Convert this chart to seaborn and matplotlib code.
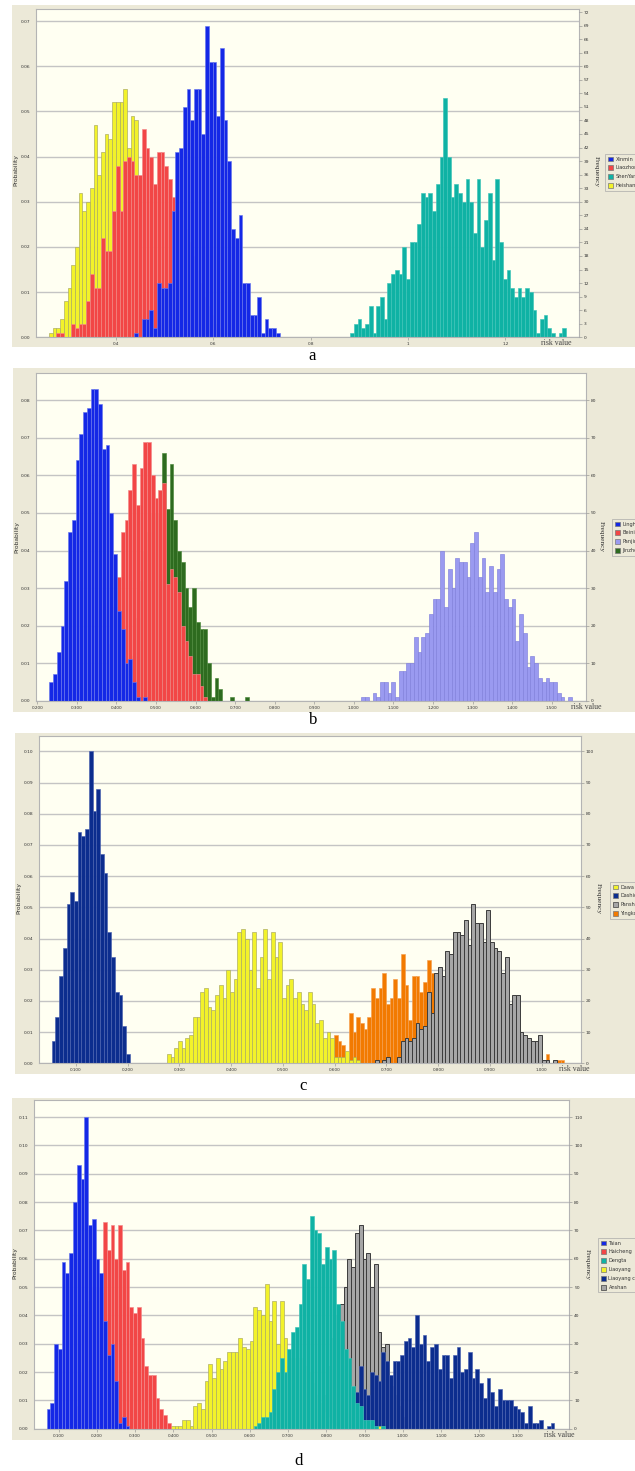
import numpy as np
import pandas as pd
import matplotlib
matplotlib.use("Agg")
import matplotlib.pyplot as plt
from matplotlib.patches import Patch, Rectangle
import seaborn as sns

sns.set_theme(style="white")
plt.rcParams['font.family'] = ['DejaVu Sans']

W, H = 635, 1471

# ---------------- panel a (bin width 0.00764) ----------------
a_bin = 0.00764
xinmin_start = 0.4382
xinmin = [0.001, 0.000, 0.004, 0.004, 0.006, 0.002, 0.012, 0.011, 0.011, 0.012,
          0.028, 0.041, 0.042, 0.051, 0.055, 0.048, 0.055, 0.055, 0.045, 0.069,
          0.061, 0.061, 0.049, 0.064, 0.048, 0.039, 0.024, 0.022, 0.027, 0.012,
          0.012, 0.005, 0.005, 0.009, 0.001, 0.004, 0.002, 0.002, 0.001]
liaozhong_start = 0.2778
liaozhong = [0.001, 0.001, 0.000, 0.000, 0.003, 0.002, 0.003, 0.003, 0.008, 0.014,
             0.011, 0.011, 0.022, 0.019, 0.019, 0.028, 0.038, 0.028, 0.039, 0.040,
             0.039, 0.036, 0.036, 0.046, 0.042, 0.040, 0.034, 0.041, 0.041, 0.038,
             0.035, 0.031, 0.028, 0.026, 0.024, 0.021, 0.018, 0.015, 0.012, 0.009,
             0.007, 0.005, 0.003, 0.002]
shenyang_start = 0.8813
shenyang_freq = [1, 3, 4, 2, 3, 7, 1, 7, 9, 4, 12, 14, 15, 14, 20, 13, 21, 21, 25, 32,
                 31, 32, 28, 34, 40, 53, 40, 31, 34, 32, 30, 35, 30, 23, 35, 20, 26, 32, 17, 35,
                 21, 13, 15, 11, 9, 11, 9, 11, 10, 6, 1, 4, 5, 2, 1, 0, 1, 2]
heishan_start = 0.2625
heishan = [0.001, 0.002, 0.002, 0.004, 0.008, 0.011, 0.016, 0.020, 0.032, 0.028,
           0.030, 0.033, 0.047, 0.036, 0.041, 0.045, 0.044, 0.052, 0.052, 0.052,
           0.055, 0.042, 0.049, 0.048]

# ---------------- panel b (bin width 0.0095) ----------------
b_bin = 0.0095
linghai_start = 0.2304
linghai = [0.005, 0.007, 0.013, 0.020, 0.032, 0.045, 0.048, 0.064, 0.071, 0.077,
           0.078, 0.083, 0.083, 0.079, 0.067, 0.068, 0.050, 0.039, 0.024, 0.019,
           0.010, 0.011, 0.005, 0.001, 0.000, 0.001]
beining_start = 0.3824
beining = [0.015, 0.025, 0.033, 0.045, 0.048, 0.056, 0.063, 0.052, 0.062, 0.069,
           0.069, 0.060, 0.054, 0.056, 0.058, 0.031, 0.035, 0.033, 0.029, 0.020,
           0.016, 0.012, 0.007, 0.007, 0.004, 0.001]
panjin_start = 1.0189
panjin_freq = [1, 1, 0, 2, 1, 5, 5, 2, 5, 1, 8, 8, 10, 10, 17, 13, 17, 18, 23, 27,
               27, 40, 25, 35, 30, 38, 37, 37, 33, 42, 45, 33, 38, 29, 36, 29, 35, 39, 27, 25,
               27, 16, 23, 18, 9, 12, 10, 6, 5, 6, 5, 5, 2, 1, 0, 1]
jinzhou_start = 0.4299
jinzhou = [0.005, 0.012, 0.022, 0.032, 0.040, 0.045, 0.050, 0.048, 0.050,
           0.066, 0.051, 0.063, 0.048, 0.040, 0.037, 0.030, 0.025, 0.030, 0.021,
           0.019, 0.019, 0.010, 0.001, 0.006, 0.003, 0.000, 0.000, 0.001, 0.000,
           0.000, 0.000, 0.001]

# ---------------- panel c (bin width 0.00718) ----------------
c_bin = 0.00718
dawa_start = 0.2756
dawa = [0.003, 0.002, 0.005, 0.007, 0.005, 0.008, 0.009, 0.015, 0.015, 0.023,
        0.024, 0.018, 0.017, 0.022, 0.025, 0.021, 0.030, 0.023, 0.027, 0.042,
        0.043, 0.040, 0.030, 0.042, 0.024, 0.034, 0.043, 0.027, 0.042, 0.034,
        0.039, 0.021, 0.025, 0.027, 0.021, 0.023, 0.019, 0.017, 0.023, 0.019,
        0.013, 0.014, 0.008, 0.010, 0.008, 0.002, 0.002, 0.002, 0.004, 0.001,
        0.002, 0.001]
dashiqiao_start = 0.0530
dashiqiao = [0.007, 0.015, 0.028, 0.037, 0.051, 0.055, 0.052, 0.074, 0.073, 0.075,
             0.100, 0.081, 0.088, 0.067, 0.061, 0.042, 0.034, 0.023, 0.022, 0.012,
             0.003]
panshan_start = 0.6777
panshan_freq = [1, 0, 1, 2, 0, 0, 2, 7, 8, 7, 8, 13, 11, 12, 23, 16,
                29, 31, 28, 36, 35, 42, 42, 41, 46, 38, 51, 45, 45, 39, 49, 39, 37, 36, 29, 34,
                19, 22, 22, 10, 9, 8, 7, 7, 9, 1, 1, 0, 1]
yingkou_start = 0.5987
yingkou_freq = [9, 7, 6, 2, 16, 10, 15, 13, 11, 15, 24, 21, 24, 29, 19, 21, 27, 21, 35, 25,
                14, 28, 28, 23, 26, 33, 29,
                25, 26, 24, 24, 22, 22, 20, 19, 18, 17, 16, 15, 14, 13, 12, 11, 10, 9, 8, 7,
                6, 5, 5, 4, 3, 3, 2, 2, 2, 0, 3, 0, 0, 1, 1]

# ---------------- panel d (bin width 0.00983) ----------------
d_bin = 0.00983
taian_start = 0.0691
taian = [0.007, 0.009, 0.030, 0.028, 0.059, 0.055, 0.062, 0.080, 0.093, 0.088,
         0.110, 0.072, 0.074, 0.060, 0.055, 0.038, 0.026, 0.030, 0.017, 0.002,
         0.004, 0.001]
haicheng_start = 0.1477
haicheng = [0.008, 0.020, 0.035, 0.045, 0.050, 0.050, 0.048,
            0.073, 0.063, 0.072, 0.060, 0.072, 0.056, 0.059, 0.043, 0.041, 0.043,
            0.032, 0.022, 0.019, 0.019, 0.011, 0.007, 0.005, 0.002]
dengta_start = 0.6098
dengta = [0.001, 0.002, 0.004, 0.004, 0.006, 0.014, 0.020, 0.025, 0.020, 0.028,
          0.034, 0.036, 0.044, 0.058, 0.053, 0.075, 0.070, 0.069, 0.058, 0.064,
          0.060, 0.063, 0.044, 0.038, 0.028, 0.025, 0.015, 0.009, 0.008, 0.003,
          0.003, 0.003, 0.001, 0.000, 0.001]
liaoyang_start = 0.3935
liaoyang = [0.001, 0.001, 0.001, 0.003, 0.003, 0.001, 0.008, 0.009, 0.007, 0.017,
            0.023, 0.018, 0.025, 0.021, 0.024, 0.027, 0.027, 0.027, 0.032, 0.029,
            0.028, 0.031, 0.043, 0.042, 0.040, 0.051, 0.038, 0.045, 0.030, 0.045,
            0.032, 0.022, 0.025, 0.025, 0.025, 0.022, 0.020, 0.016, 0.012, 0.009,
            0.006, 0.004, 0.002, 0.001, 0, 0, 0, 0, 0, 0, 0, 0, 0, 0, 0, 0.001]
liaoyang_city_start = 0.8752
liaoyang_city_freq = [13, 22, 14, 12, 20, 19, 17, 27, 24, 19, 24, 24, 26, 31, 32, 29, 40, 30,
                      33, 24, 29, 30, 21, 26, 26, 18, 26, 29, 20, 21, 27, 18, 21, 16, 11, 18,
                      13, 8, 14, 10, 10, 10, 8, 7, 6, 2, 8, 2, 2, 3, 0, 1, 2]
anshan_start = 0.7867
anshan = [0.005, 0.012, 0.022, 0.032, 0.040,
          0.044, 0.050, 0.060, 0.057, 0.069, 0.072, 0.060, 0.062, 0.050, 0.058,
          0.034, 0.029, 0.030, 0.015, 0.012, 0.008, 0.004]

# ---------------- styling ----------------
BG = '#ECE9D8'
PLOT_BG = '#FFFFF2'
BLUE, BLUE_E = '#1428E6', '#6877EE'
RED, RED_E = '#F24646', '#F48A8A'
TEAL, TEAL_E = '#0FB2A4', '#3FC4B8'
YEL, YEL_E = '#F2F22A', '#A8A860'
PUR, PUR_E = '#9A9AF0', '#8080DC'
GRN, GRN_E = '#2E6B1F', '#4E8A3C'
NAVY, NAVY_E = '#0C2D8E', '#4A62B0'
GRAY, GRAY_E = '#A6A6A6', '#3C3C3C'
ORA, ORA_E = '#F27A00', '#F5A050'


def to_prob(freq):
    return [f / 1000.0 for f in freq]


panels = [
    dict(bg=(12, 5, 635, 347), plot=(36, 9.3, 579, 337.3), xlim=(0.236, 1.351), ytop=0.0726,
         yticks=np.arange(0, 0.0701, 0.01), xticks=[0.4, 0.6, 0.8, 1.0, 1.2],
         xlabels=['0.4', '0.6', '0.8', '1', '1.2'], fticks=list(range(0, 73, 3)),
         bin=a_bin,
         series=[('Xinmin', xinmin_start, xinmin, BLUE, BLUE_E),
                 ('Liaozhong', liaozhong_start, liaozhong, RED, RED_E),
                 ('ShenYang', shenyang_start, to_prob(shenyang_freq), TEAL, TEAL_E),
                 ('Heishan', heishan_start, heishan, YEL, YEL_E)],
         prob_xy=(16, 170), freq_xy=(596, 172), risk_xy=(556, 343), letter='a',
         letter_xy=(312, 356), leg_xy=(605, 154)),
    dict(bg=(12.7, 368, 635, 711.7), plot=(36, 373.3, 585.7, 700.7), xlim=(0.1967, 1.586), ytop=0.0872,
         yticks=np.arange(0, 0.0801, 0.01), xticks=list(np.arange(0.2, 1.501, 0.1)),
         xlabels=['%.3f' % v for v in np.arange(0.2, 1.501, 0.1)], fticks=list(range(0, 81, 10)),
         bin=b_bin,
         series=[('Linghai', linghai_start, linghai, BLUE, BLUE_E),
                 ('Beining', beining_start, beining, RED, RED_E),
                 ('Panjin', panjin_start, to_prob(panjin_freq), PUR, PUR_E),
                 ('Jinzhou', jinzhou_start, jinzhou, GRN, GRN_E)],
         prob_xy=(17, 537), freq_xy=(601, 537), risk_xy=(586, 707), letter='b',
         letter_xy=(313, 720), leg_xy=(612, 519)),
    dict(bg=(15, 733.3, 635, 1074), plot=(39.3, 735.7, 580.7, 1063.3), xlim=(0.0291, 1.0755), ytop=0.105,
         yticks=np.arange(0, 0.1001, 0.01), xticks=list(np.arange(0.1, 1.001, 0.1)),
         xlabels=['%.3f' % v for v in np.arange(0.1, 1.001, 0.1)], fticks=list(range(0, 101, 10)),
         bin=c_bin,
         series=[('Dawa', dawa_start, dawa, YEL, YEL_E),
                 ('Dashiqiao', dashiqiao_start, dashiqiao, NAVY, NAVY_E),
                 ('Panshan', panshan_start, to_prob(panshan_freq), GRAY, GRAY_E),
                 ('Yingkou', yingkou_start, to_prob(yingkou_freq), ORA, ORA_E)],
         prob_xy=(19, 898), freq_xy=(598, 899), risk_xy=(574, 1069), letter='c',
         letter_xy=(303, 1086), leg_xy=(610, 882)),
    dict(bg=(11.7, 1098.3, 635, 1440), plot=(34.3, 1100.3, 569.3, 1428.7), xlim=(0.0367, 1.4354), ytop=0.1159,
         yticks=np.arange(0, 0.1101, 0.01), xticks=list(np.arange(0.1, 1.301, 0.1)),
         xlabels=['%.3f' % v for v in np.arange(0.1, 1.301, 0.1)], fticks=list(range(0, 111, 10)),
         bin=d_bin,
         series=[('Taian', taian_start, taian, BLUE, BLUE_E),
                 ('Haicheng', haicheng_start, haicheng, RED, RED_E),
                 ('Dengta', dengta_start, dengta, TEAL, TEAL_E),
                 ('Liaoyang', liaoyang_start, liaoyang, YEL, YEL_E),
                 ('Liaoyang city', liaoyang_city_start, to_prob(liaoyang_city_freq), NAVY, NAVY_E),
                 ('Anshan', anshan_start, anshan, GRAY, GRAY_E)],
         prob_xy=(15, 1263), freq_xy=(587, 1265), risk_xy=(559, 1435), letter='d',
         letter_xy=(299, 1461), leg_xy=(598, 1238)),
]


def fx(x):
    return x / W


def fy(y):
    return 1 - y / H


def draw_series(ax, start, width, probs, face, edge):
    probs = np.asarray(probs, dtype=float)
    edges = start + width * np.arange(len(probs) + 1)
    centers = 0.5 * (edges[:-1] + edges[1:])
    df = pd.DataFrame({'risk': centers, 'prob': probs})
    lw = 0.7 if edge == GRAY_E else 0.45
    sns.histplot(data=df, x='risk', weights='prob', bins=[float(e) for e in edges],
                 ax=ax, color=face, edgecolor=edge, linewidth=lw, alpha=1.0)


fig = plt.figure(figsize=(W / 100, H / 100), dpi=100)
fig.patch.set_facecolor('white')

for P in panels:
    x0, y0, x1, y1 = P['bg']
    fig.add_artist(Rectangle((fx(x0), fy(y1)), (x1 - x0) / W, (y1 - y0) / H,
                             transform=fig.transFigure, facecolor=BG,
                             edgecolor='none', zorder=-10))
    l, t, r, b = P['plot']
    ax = fig.add_axes([fx(l), fy(b), (r - l) / W, (b - t) / H])
    ax.set_facecolor(PLOT_BG)
    for name, start, vals, face, edge in reversed(P['series']):
        draw_series(ax, start, P['bin'], vals, face, edge)
    ax.set_xlim(*P['xlim'])
    ax.set_ylim(0, P['ytop'])
    ax.set_yticks(P['yticks'])
    ax.set_yticklabels(['%.2f' % v for v in P['yticks']])
    ax.set_xticks(P['xticks'])
    ax.set_xticklabels(P['xlabels'])
    ax.set_xlabel('')
    ax.set_ylabel('')
    ax.yaxis.grid(True, color='#C4C4C4', linewidth=1.0)
    ax.xaxis.grid(False)
    ax.set_axisbelow(True)
    ax.tick_params(axis='y', labelsize=3.2, length=0, pad=4, labelcolor='#333333')
    ax.tick_params(axis='x', labelsize=3.0, length=2, width=0.4, color='#888888',
                   pad=1.5, labelcolor='#333333', bottom=True)
    for sp in ax.spines.values():
        sp.set_color('#B4B4B4')
        sp.set_linewidth(0.8)

    ax2 = ax.twinx()
    ax2.set_ylim(0, P['ytop'] * 1000)
    ax2.set_yticks(P['fticks'])
    ax2.set_yticklabels([str(v) for v in P['fticks']])
    ax2.tick_params(axis='y', labelsize=3.2, length=2, width=0.4, color='#888888',
                    pad=1.5, labelcolor='#333333', right=True)
    ax2.grid(False)
    for sp in ax2.spines.values():
        sp.set_visible(False)

    px, py = P['prob_xy']
    fig.text(fx(px), fy(py), 'Probability', rotation=90, ha='center', va='center',
             fontsize=4.3, color='#333333')
    qx, qy = P['freq_xy']
    fig.text(fx(qx), fy(qy), 'Frequency', rotation=270, ha='center', va='center',
             fontsize=5.3, color='#333333', family='Liberation Serif')
    rx, ry = P['risk_xy']
    fig.text(fx(rx), fy(ry), 'risk value', ha='center', va='center',
             fontsize=5.6, color='#444444', family='Liberation Serif')
    lx, ly = P['letter_xy']
    fig.text(fx(lx), fy(ly), P['letter'], ha='center', va='center',
             fontsize=12, color='black', family='Liberation Serif')

    handles = [Patch(facecolor=s[3], edgecolor=(GRAY_E if s[4] == GRAY_E else '#777777'),
                     linewidth=0.5, label=s[0]) for s in P['series']]
    gx, gy = P['leg_xy']
    leg = ax.legend(handles=handles, loc='upper left', bbox_to_anchor=(fx(gx), fy(gy)),
                    bbox_transform=fig.transFigure, fontsize=3.6, frameon=True,
                    fancybox=False, borderpad=0.5, labelspacing=0.75, handlelength=1.1,
                    handleheight=1.1, handletextpad=0.5, borderaxespad=0.0)
    fr = leg.get_frame()
    fr.set_facecolor(BG)
    fr.set_edgecolor('#A8A8A8')
    fr.set_linewidth(0.6)
    for txt in leg.get_texts():
        txt.set_color('#333333')

fig.savefig('out.png', dpi=100, facecolor='white')
